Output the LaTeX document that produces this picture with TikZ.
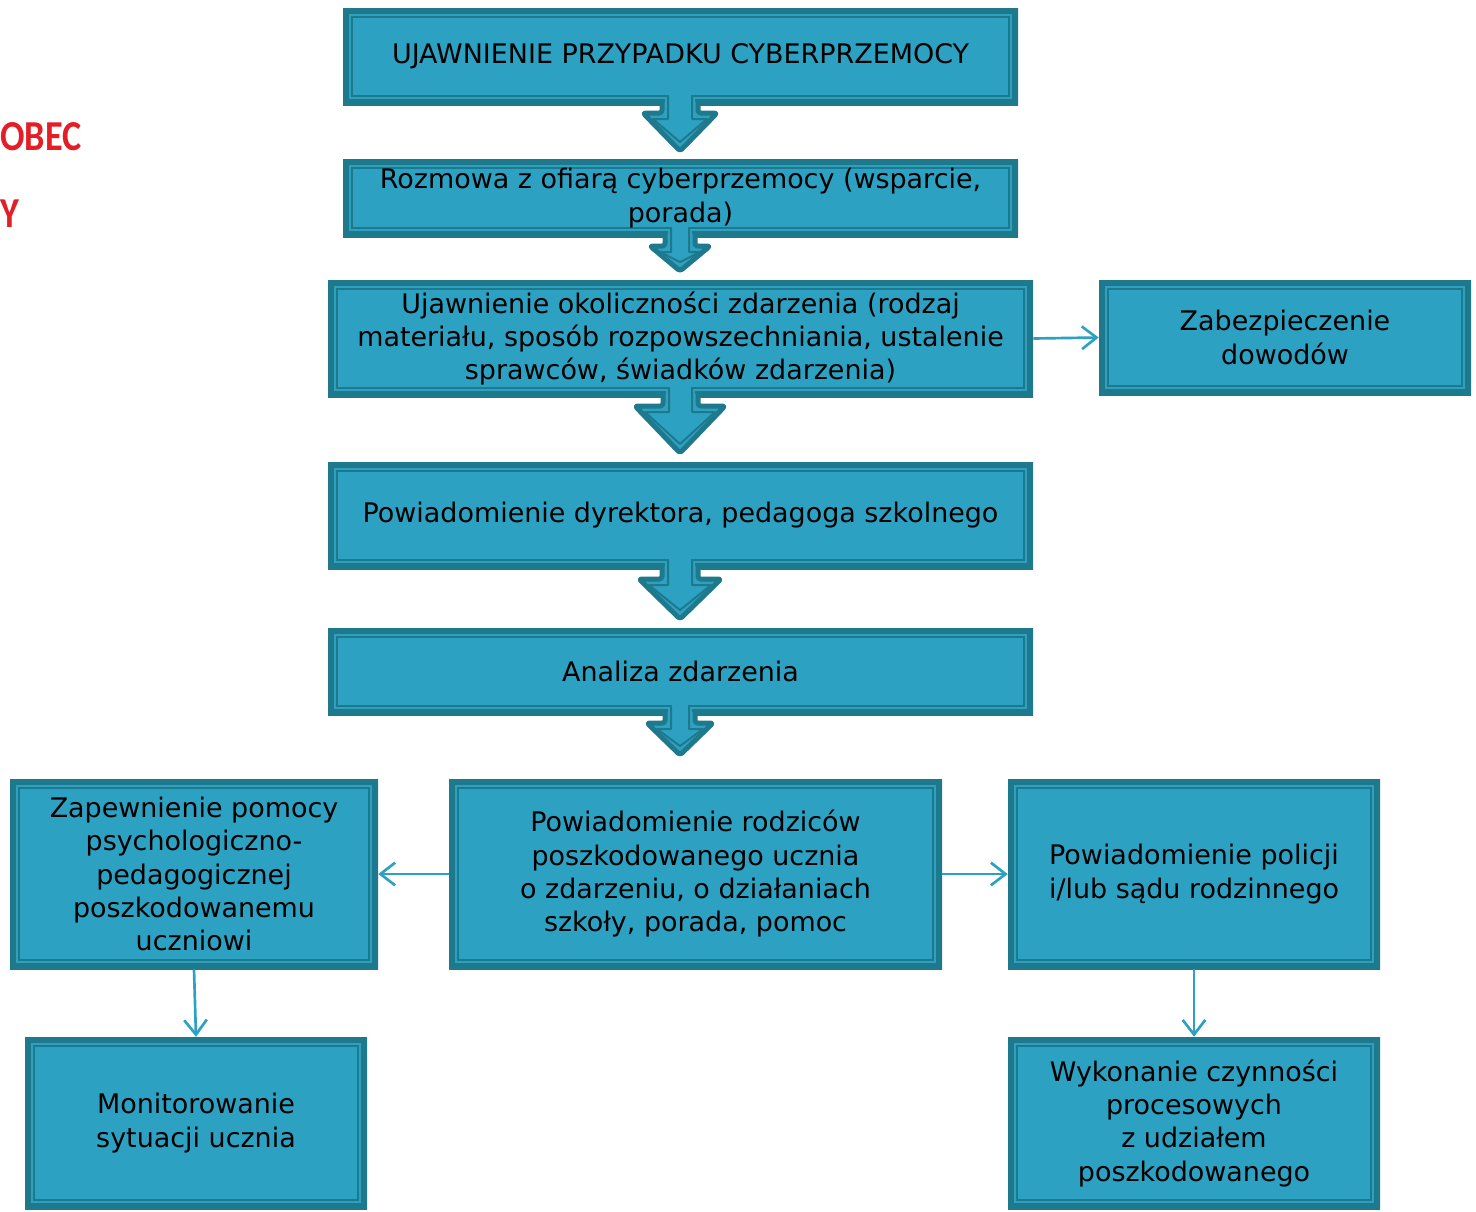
\documentclass[tikz,border=0pt]{standalone}
\usepackage{fontspec}
\usepackage{graphicx}
\setmainfont{DejaVu Sans}
\newfontfamily\redfnt{Carlito}
\usetikzlibrary{arrows.meta}
\definecolor{boxfill}{RGB}{45,161,194}
\definecolor{boxdark}{RGB}{31,121,141}
\definecolor{titlered}{RGB}{226,30,38}
\newcommand\barrow[7]{%
 \fill[boxfill] ({#2},{#1-3}) -- ({#2},{#6}) -- ({#4},{#6}) -- (680,{#7}) -- ({#5},{#6}) -- ({#3},{#6}) -- ({#3},{#1-3}) -- cycle;
 \draw[boxdark, line width=3.75pt, rounded corners=2pt, line join=round] ({#2},{#1-3}) -- ({#2},{#6}) -- ({#4},{#6}) -- (680,{#7}) -- ({#5},{#6}) -- ({#3},{#6}) -- ({#3},{#1-3});
 \fill[boxfill] ({#2+2.6},{#1-7}) rectangle ({#3-2.6},{#1+1});
 \fill[boxfill] ({#2+7},{#1-11}) rectangle ({#3-7},{#1-5});
 \draw[boxdark, line width=1.5pt, line join=round] ({#2+6},{#1-8.5}) -- ({#2+6},{#6+6}) -- ({#4+10},{#6+6}) -- (680,{#7-9}) -- ({#5-10},{#6+6}) -- ({#3-6},{#6+6}) -- ({#3-6},{#1-8.5});
}
\begin{document}
\begin{tikzpicture}[x=0.75pt,y=-0.75pt,
  box/.style={rectangle, fill=boxfill, inner sep=0pt, align=center,
    font=\fontsize{20.2}{25}\selectfont,
    path picture={
      \draw[boxdark, line width=9pt] (path picture bounding box.south west) rectangle (path picture bounding box.north east);
      \draw[boxdark, line width=1.5pt] ([shift={(6.4pt,6.4pt)}]path picture bounding box.south west) rectangle ([shift={(-6.4pt,-6.4pt)}]path picture bounding box.north east);
    }},
  link/.style={draw=boxfill, line width=2pt, -{Straight Barb[length=11pt,width=17pt,line width=2pt]}},
  redtitle/.style={anchor=base west, inner sep=0pt, text=titlered, font=\redfnt\bfseries\fontsize{32}{36}\selectfont}
]
\useasboundingbox (0,0) rectangle (1476,1211);

\node[redtitle] (t1) at (0,150) {\scalebox{0.85}[1]{OBEC}};
\node[redtitle] (t2) at (0,227) {\scalebox{0.85}[1]{Y}};

\node[box, minimum width=506.25pt, minimum height=72.75pt] (b1) at (680.5,56.5) {UJAWNIENIE PRZYPADKU CYBERPRZEMOCY};
\node[box, minimum width=506.25pt, minimum height=58.5pt] (b2) at (680.5,198) {Rozmowa z ofiarą cyberprzemocy (wsparcie,\\porada)};
\node[box, minimum width=528.75pt, minimum height=87.75pt] (b3) at (680.5,338.5) {Ujawnienie okoliczności zdarzenia (rodzaj\\materiału, sposób rozpowszechniania, ustalenie\\sprawców, świadków zdarzenia)};
\node[box, minimum width=279pt, minimum height=86.25pt] (bz) at (1285,337.5) {Zabezpieczenie\\dowodów};
\node[box, minimum width=528.75pt, minimum height=80.25pt] (b4) at (680.5,515.5) {Powiadomienie dyrektora, pedagoga szkolnego};
\node[box, minimum width=528.75pt, minimum height=65.25pt] (b5) at (680.5,671.5) {Analiza zdarzenia};
\node[box, minimum width=276pt, minimum height=142.5pt] (bl) at (194,874) {Zapewnienie pomocy\\psychologiczno-\\pedagogicznej\\poszkodowanemu\\uczniowi};
\node[box, minimum width=369.75pt, minimum height=142.5pt] (bm) at (695.5,874) {Powiadomienie rodziców\\poszkodowanego ucznia\\o zdarzeniu, o działaniach\\szkoły, porada, pomoc};
\node[box, minimum width=279pt, minimum height=142.5pt] (br) at (1194,874) {Powiadomienie policji\\i/lub sądu rodzinnego};
\node[box, minimum width=256.5pt, minimum height=129pt] (bbl) at (196,1123) {Monitorowanie\\sytuacji ucznia};
\node[box, minimum width=279pt, minimum height=129pt] (bbr) at (1194,1123) {Wykonanie czynności\\procesowych\\z udziałem\\poszkodowanego};

\barrow{105}{662}{698}{643}{717}{113}{151}
\barrow{237}{665}{695}{650}{710}{246}{271}
\barrow{397}{663}{698}{635}{725}{406}{453}
\barrow{569}{662}{698}{639}{721}{579}{619}
\barrow{715}{665}{695}{647}{713}{723}{755}

\draw[link] (b3.east) -- (bz.west);
\draw[link] (bm.west) -- (bl.east);
\draw[link] (bm.east) -- (br.west);
\draw[link] (bl.south) -- (bbl.north);
\draw[link] (br.south) -- (bbr.north);
\end{tikzpicture}
\end{document}
